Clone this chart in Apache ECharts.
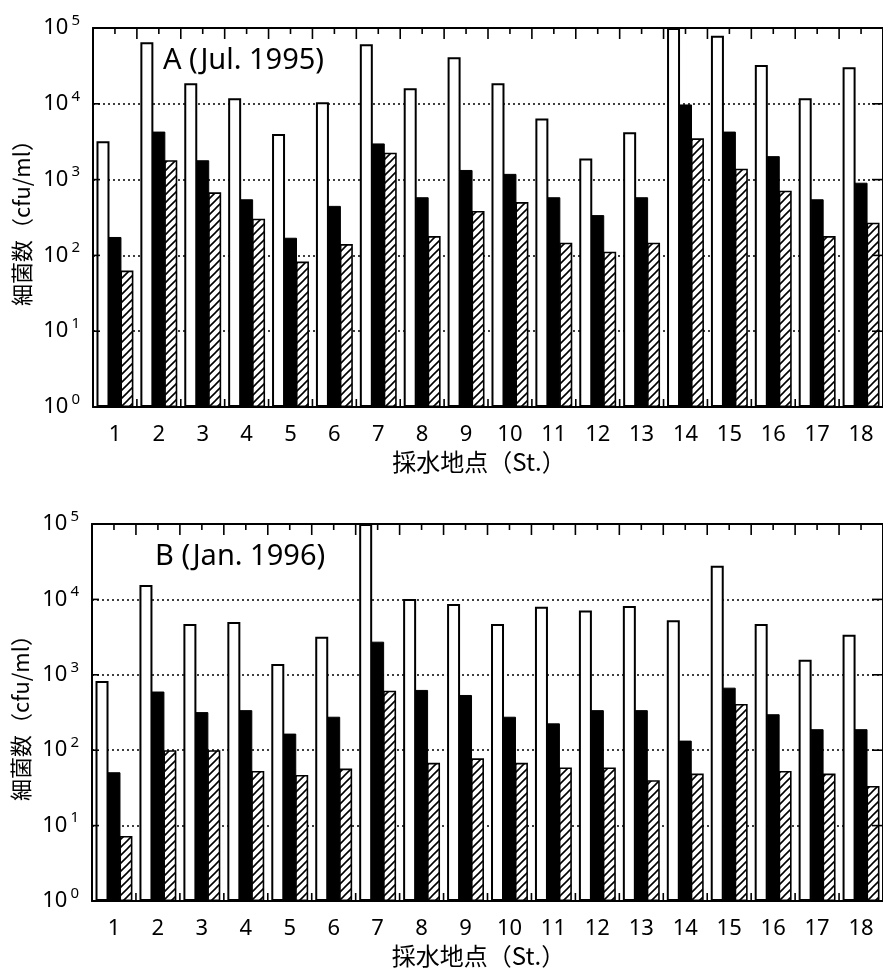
<!DOCTYPE html>
<html>
<head>
<meta charset="utf-8">
<script src="https://cdn.jsdelivr.net/npm/echarts@6/dist/echarts.min.js"></script>
<style>
  html, body { margin: 0; padding: 0; background: #fff; }
  #chart { width: 883px; height: 976px; }
</style>
</head>
<body>
<div id="chart"></div>
<script>
// 採水地点
const stations = ['1', '2', '3', '4', '5', '6', '7', '8', '9', '10', '11', '12', '13', '14', '15', '16', '17', '18'];

// A (Jul. 1995)
const openA = [3200, 65000, 18700, 11800, 4000, 10500, 61000, 16000, 41000, 18700, 6400, 1900, 4200, 100000, 79000, 32500, 11800, 30300];
const solidA = [175, 4300, 1800, 550, 171, 450, 3000, 585, 1340, 1190, 585, 340, 585, 9800, 4300, 2040, 550, 910];
const hatchA = [63, 1800, 680, 305, 83, 141, 2260, 180, 385, 505, 147, 112, 147, 3500, 1390, 715, 180, 270];

// B (Jan. 1996)
const openB = [830, 15500, 4700, 5000, 1390, 3200, 100000, 10100, 8700, 4700, 8000, 7100, 8200, 5300, 28000, 4700, 1580, 3400];
const solidB = [51, 600, 320, 340, 166, 278, 2750, 630, 540, 278, 227, 340, 340, 134, 675, 300, 190, 190];
const hatchB = [7.3, 100, 100, 53, 47, 57, 615, 68, 78, 68, 59, 59, 40, 49, 410, 53, 49, 33.5];

// 対数軸の目盛 (10^0 .. 10^5)
const decades = [1, 10, 100, 1000, 10000, 100000];

const yTitle = '細菌数（cfu/ml）';
const xTitle = '採水地点（St.）';

const FONT = '"Noto Sans", "Noto Sans CJK JP", sans-serif';
const JP = '"Noto Sans CJK JP", "Noto Sans", sans-serif';

// 斜線パターン
function makeHatch() {
  const c = document.createElement('canvas');
  c.width = 8;
  c.height = 8;
  const g = c.getContext('2d');
  g.fillStyle = '#fff';
  g.fillRect(0, 0, 8, 8);
  g.strokeStyle = '#000';
  g.lineWidth = 1.6;
  g.beginPath();
  g.moveTo(0, 8); g.lineTo(8, 0);
  g.moveTo(-2, 2); g.lineTo(2, -2);
  g.moveTo(6, 10); g.lineTo(10, 6);
  g.stroke();
  return c;
}
const hatch = makeHatch();

const grids = [
  { left: 93, top: 28, width: 797, height: 379 },
  { left: 92, top: 524, width: 798, height: 377 }
];

const xAxes = [];
const yAxes = [];
const series = [];

function seg(x1, y1, x2, y2) {
  return { type: 'line', shape: { x1, y1, x2, y2 }, style: { stroke: '#000', lineWidth: 1.6 } };
}

// 上下の内向き目盛 (カテゴリ境界と中央)
function xTickItem(params, api) {
  const i = api.value(0);
  const top = api.coord([i, 100000]);
  const bot = api.coord([i, 1]);
  const band = api.coord([1, 1])[0] - api.coord([0, 1])[0];
  const xl = top[0] - band / 2;
  const children = [
    seg(xl, top[1], xl, top[1] + 11),
    seg(top[0], top[1], top[0], top[1] + 6),
    seg(xl, bot[1], xl, bot[1] - 8)
  ];
  if (i === stations.length - 1) {
    const xr = top[0] + band / 2;
    children.push(seg(xr, top[1], xr, top[1] + 11));
    children.push(seg(xr, bot[1], xr, bot[1] - 8));
  }
  return { type: 'group', children };
}

// 左右の内向き目盛 (10 のべき)
function yTickItem(params, api) {
  const d = api.value(1);
  const p0 = api.coord([0, d]);
  const band = api.coord([1, d])[0] - p0[0];
  const xl = p0[0] - band / 2;
  const xr = xl + band * stations.length;
  return { type: 'group', children: [seg(xl, p0[1], xl + 7, p0[1]), seg(xr - 11, p0[1], xr, p0[1])] };
}

function addPanel(gi, open, solid, hatched) {
  const xi = xAxes.length;
  const yi = yAxes.length;
  // 下軸
  xAxes.push({
    type: 'category', gridIndex: gi, position: 'bottom', data: stations,
    axisLine: { show: true, onZero: false, lineStyle: { color: '#000', width: 2 } },
    axisTick: { show: false },
    axisLabel: { color: '#000', fontSize: 22, fontFamily: FONT, margin: 17 },
    name: xTitle, nameLocation: 'middle', nameGap: 43,
    nameTextStyle: { color: '#000', fontSize: 24, fontFamily: JP, padding: [0, 18, 0, 0] }
  });
  // 上枠
  xAxes.push({
    type: 'category', gridIndex: gi, position: 'top', data: stations,
    axisLine: { show: true, onZero: false, lineStyle: { color: '#000', width: 2 } },
    axisTick: { show: false }, axisLabel: { show: false }
  });
  yAxes.push({
    type: 'log', logBase: 10, gridIndex: gi, min: 1, max: 100000, position: 'left',
    axisLine: { show: true, lineStyle: { color: '#000', width: 2 } },
    axisTick: { show: false },
    splitLine: { show: true, lineStyle: { color: '#000', type: [2, 3], width: 1.5 } },
    axisLabel: {
      color: '#000', margin: 13,
      formatter: v => '{b|10}{s|' + Math.round(Math.log10(v)) + '}',
      rich: {
        b: { fontSize: 22, fontFamily: FONT, lineHeight: 30, color: '#000' },
        s: { fontSize: 15, fontFamily: FONT, lineHeight: 12, verticalAlign: 'top', padding: [0, 0, 0, 3], color: '#000' }
      }
    },
    name: yTitle, nameLocation: 'middle', nameRotate: 90, nameGap: 60,
    nameTextStyle: { color: '#000', fontSize: 22, fontFamily: JP }
  });
  yAxes.push({
    type: 'log', logBase: 10, gridIndex: gi, min: 1, max: 100000, position: 'right',
    axisLine: { show: true, lineStyle: { color: '#000', width: 2 } },
    axisTick: { show: false },
    splitLine: { show: false },
    axisLabel: { show: false }
  });
  const common = { type: 'bar', xAxisIndex: xi, yAxisIndex: yi, barWidth: 13, barGap: '-8%', animation: false };
  series.push(Object.assign({}, common, {
    data: open, itemStyle: { color: '#fff', borderColor: '#000', borderWidth: 2 }
  }));
  series.push(Object.assign({}, common, {
    data: solid, itemStyle: { color: '#000', borderColor: '#000', borderWidth: 1 }
  }));
  series.push(Object.assign({}, common, {
    data: hatched, itemStyle: { color: { image: hatch, repeat: 'repeat' }, borderColor: '#000', borderWidth: 1.6 }
  }));
  // 目盛
  series.push({
    type: 'custom', xAxisIndex: xi, yAxisIndex: yi, silent: true, clip: false, z: 10, animation: false,
    renderItem: xTickItem,
    data: stations.map((s, i) => [i, 1])
  });
  series.push({
    type: 'custom', xAxisIndex: xi, yAxisIndex: yi, silent: true, clip: false, z: 10, animation: false,
    renderItem: yTickItem,
    data: decades.map(d => [0, d])
  });
}

addPanel(0, openA, solidA, hatchA);
addPanel(1, openB, solidB, hatchB);

const chart = echarts.init(document.getElementById('chart'), null, { renderer: 'canvas' });
chart.setOption({
  backgroundColor: '#fff',
  animation: false,
  grid: grids,
  xAxis: xAxes,
  yAxis: yAxes,
  series: series,
  graphic: [
    { type: 'text', left: 163, top: 46, style: { text: 'A (Jul. 1995)', fontSize: 29, fontFamily: FONT, fill: '#000' } },
    { type: 'text', left: 155, top: 542, style: { text: 'B (Jan. 1996)', fontSize: 29, fontFamily: FONT, fill: '#000' } }
  ]
});
</script>
</body>
</html>
